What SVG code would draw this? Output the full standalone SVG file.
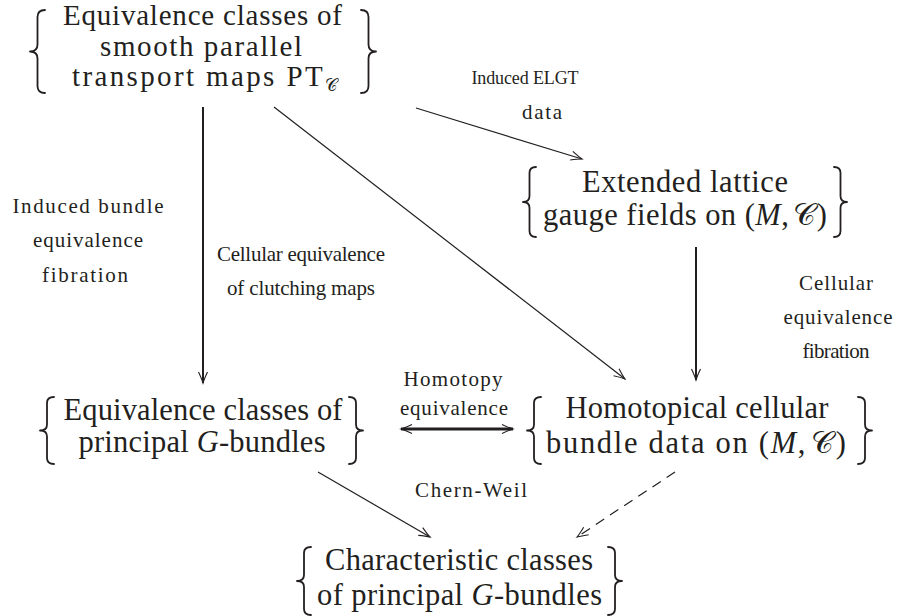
<svg xmlns="http://www.w3.org/2000/svg" width="898" height="616" viewBox="0 0 898 616">
<style>
text{font-family:'Liberation Serif',serif;fill:#231f20;text-anchor:middle}
.n{font-size:30.5px}
.nt{font-size:29px}
.l{font-size:21px}
.sm{font-size:18px}
.i{font-style:italic}
.br{fill:none;stroke:#231f20;stroke-width:1.8;stroke-linecap:round;stroke-linejoin:round}
.c{fill:none;stroke:#231f20;stroke-width:1.2}
.t{stroke-width:2}
</style>
<defs>
<marker id="ah" viewBox="-12 -6 14 12" refX="0" refY="0" markerWidth="14" markerHeight="12" markerUnits="userSpaceOnUse" orient="auto-start-reverse">
<path d="M-11,-4.5 Q-4,-1.2 0,0 Q-4,1.2 -11,4.5" fill="none" stroke="#231f20" stroke-width="1.1"/>
</marker>
</defs>
<rect width="898" height="616" fill="#fff"/>

<g id="connectors">
<path class="c t" d="M203,107 L203,383" marker-end="url(#ah)"/>
<path class="c" d="M274,107 L625,379" marker-end="url(#ah)"/>
<path class="c" d="M416,108 L582,159" marker-end="url(#ah)"/>
<path class="c t" d="M696,247 L696,380" marker-end="url(#ah)"/>
<path class="c" style="stroke-width:3" d="M401,429 L513,429" marker-start="url(#ah)" marker-end="url(#ah)"/>
<path class="c" d="M318,472 L430,537" marker-end="url(#ah)"/>
<path class="c" stroke-dasharray="10 7" d="M675,472 L577,537" marker-end="url(#ah)"/>
</g>

<g id="labels">
<text class="sm" x="525" y="84" textLength="107" lengthAdjust="spacing">Induced ELGT</text>
<text class="l" x="542" y="119" textLength="40" lengthAdjust="spacing">data</text>
<text class="l" x="88" y="213" textLength="151" lengthAdjust="spacing">Induced bundle</text>
<text class="l" x="88" y="247" textLength="110" lengthAdjust="spacing">equivalence</text>
<text class="l" x="85" y="282" textLength="86" lengthAdjust="spacing">fibration</text>
<text class="l" x="301" y="261" textLength="168" lengthAdjust="spacing">Cellular equivalence</text>
<text class="l" x="301" y="295" textLength="148" lengthAdjust="spacing">of clutching maps</text>
<text class="l" x="836" y="290" textLength="74" lengthAdjust="spacing">Cellular</text>
<text class="l" x="838" y="324" textLength="109" lengthAdjust="spacing">equivalence</text>
<text class="l" x="836" y="358" textLength="67" lengthAdjust="spacing">fibration</text>
<text class="l" x="453" y="386" textLength="99" lengthAdjust="spacing">Homotopy</text>
<text class="l" x="454" y="415" textLength="108" lengthAdjust="spacing">equivalence</text>
<text class="l" x="471" y="497" textLength="112" lengthAdjust="spacing">Chern-Weil</text>
</g>

<g id="node-pt">
<path class="br" d="M45,10 Q37.5,10 37.5,17 L37.5,44.5 Q37.5,51.5 30,51.5 Q37.5,51.5 37.5,58.5 L37.5,86 Q37.5,93 45,93"/>
<path class="br" d="M361,10 Q368.5,10 368.5,17 L368.5,44.5 Q368.5,51.5 376,51.5 Q368.5,51.5 368.5,58.5 L368.5,86 Q368.5,93 361,93"/>
<text class="nt" x="202.5" y="25" textLength="279" lengthAdjust="spacing">Equivalence classes of</text>
<text class="nt" x="201" y="55.5" textLength="202" lengthAdjust="spacing">smooth parallel</text>
<text class="nt" x="204.5" y="86" textLength="265" lengthAdjust="spacing">transport maps PT<tspan font-size="17" dy="5">𝒞</tspan></text>
</g>

<g id="node-elgt">
<path class="br" d="M536,167 Q529.5,167 529.5,173 L529.5,196 Q529.5,202 523,202 Q529.5,202 529.5,208 L529.5,231 Q529.5,237 536,237"/>
<path class="br" d="M834,167 Q840.5,167 840.5,173 L840.5,196 Q840.5,202 847,202 Q840.5,202 840.5,208 L840.5,231 Q840.5,237 834,237"/>
<text class="n" x="685" y="192" textLength="206" lengthAdjust="spacing">Extended lattice</text>
<text class="n" x="685" y="225" textLength="284" lengthAdjust="spacing">gauge fields on (<tspan class="i">M</tspan>,<tspan dx="4">𝒞</tspan>)</text>
</g>

<g id="node-bundles">
<path class="br" d="M54,397 Q47,397 47,403 L47,424.5 Q47,430.5 40,430.5 Q47,430.5 47,436.5 L47,458 Q47,464 54,464"/>
<path class="br" d="M349,397 Q356,397 356,403 L356,424.5 Q356,430.5 363,430.5 Q356,430.5 356,436.5 L356,458 Q356,464 349,464"/>
<text class="n" x="203" y="420" textLength="279" lengthAdjust="spacing">Equivalence classes of</text>
<text class="n" x="202" y="452" textLength="247" lengthAdjust="spacing">principal <tspan class="i">G</tspan>-bundles</text>
</g>

<g id="node-cellular">
<path class="br" d="M541,397 Q534,397 534,403 L534,424.5 Q534,430.5 527,430.5 Q534,430.5 534,436.5 L534,458 Q534,464 541,464"/>
<path class="br" d="M858,397 Q865,397 865,403 L865,424.5 Q865,430.5 872,430.5 Q865,430.5 865,436.5 L865,458 Q865,464 858,464"/>
<text class="n" x="697" y="418" textLength="263" lengthAdjust="spacing">Homotopical cellular</text>
<text class="n" x="696" y="453" textLength="300" lengthAdjust="spacing">bundle data on (<tspan class="i">M</tspan>,<tspan dx="4">𝒞</tspan>)</text>
</g>

<g id="node-characteristic">
<path class="br" d="M311,547 Q304,547 304,553 L304,575 Q304,581 297,581 Q304,581 304,587 L304,609 Q304,615 311,615"/>
<path class="br" d="M608,547 Q615,547 615,553 L615,575 Q615,581 622,581 Q615,581 615,587 L615,609 Q615,615 608,615"/>
<text class="n" x="459" y="570" textLength="268" lengthAdjust="spacing">Characteristic classes</text>
<text class="n" x="459.5" y="605" textLength="285" lengthAdjust="spacing">of principal <tspan class="i">G</tspan>-bundles</text>
</g>
</svg>
